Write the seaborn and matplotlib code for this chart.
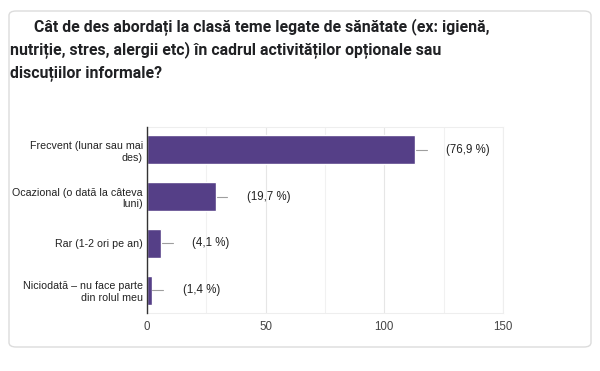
import matplotlib.pyplot as plt
import seaborn as sns
import pandas as pd
from matplotlib.patches import FancyBboxPatch

# data
categories = [
    "Frecvent (lunar sau mai\ndes)",
    "Ocazional (o dată la câteva\nluni)",
    "Rar (1-2 ori pe an)",
    "Niciodată – nu face parte\ndin rolul meu",
]
counts = [113, 29, 6, 2]
percent_labels = ["(76,9 %)", "(19,7 %)", "(4,1 %)", "(1,4 %)"]
x_ticks = [0, 50, 100, 150]

title = ("      Cât de des abordați la clasă teme legate de sănătate (ex: igienă,\n"
         "nutriție, stres, alergii etc) în cadrul activităților opționale sau\n"
         "discuțiilor informale?")

sns.set_style("white")
plt.rcParams['font.family'] = ['Liberation Sans', 'DejaVu Sans']

df = pd.DataFrame({"categorie": categories, "numar": counts})

W, H = 600, 371
fig = plt.figure(figsize=(W / 100, H / 100), dpi=100)
fig.patch.set_facecolor("white")

# card background
card = FancyBboxPatch((9 / W, 1 - 347 / H), 582 / W, 336 / H,
                      boxstyle="round,pad=0,rounding_size=0.012",
                      transform=fig.transFigure, facecolor="white",
                      edgecolor="#dcdcdc", linewidth=1.0, zorder=-5)
fig.patches.append(card)

fig.text(10 / W, 1 - 19 / H, title, ha="left", va="top", fontsize=11.4,
         fontweight="bold", color="#202124", linespacing=1.45,
         family=['Roboto', 'DejaVu Sans'])

ax = fig.add_axes([147 / W, 1 - 313 / H, 356 / W, 186 / H])
ax.set_facecolor("none")

sns.barplot(data=df, y="categorie", x="numar", color="#553f87",
            width=0.62, ax=ax, zorder=3, saturation=1)

ax.set_xlim(0, 150)
ax.set_xticks(x_ticks)
ax.set_xticks([25, 75, 125], minor=True)
ax.grid(axis="x", which="major", color="#e6e6e6", linewidth=0.8, zorder=0)
ax.grid(axis="x", which="minor", color="#f1f1f1", linewidth=0.8, zorder=0)
ax.tick_params(axis="x", which="both", length=0, labelsize=8.3, colors="#444444", pad=6)
ax.tick_params(axis="y", length=0, labelsize=7.7, colors="#222222", pad=3)
ax.set_xlabel("")
ax.set_ylabel("")

for s in ["top", "right", "bottom"]:
    ax.spines[s].set_color("#eeeeee")
    ax.spines[s].set_linewidth(0.8)
ax.spines["left"].set_color("#333333")
ax.spines["left"].set_linewidth(1.0)
ax.spines["left"].set_zorder(5)

for i, (v, lab) in enumerate(zip(counts, percent_labels)):
    ax.plot([v + 0.3, v + 4.8], [i, i], color="#9e9e9e", linewidth=0.8, zorder=4)
    ax.text(v + 13, i, lab, va="center", ha="left", fontsize=8.3, color="#222222")

for lab in ax.get_yticklabels():
    lab.set_horizontalalignment("right")
    lab.set_multialignment("right")

fig.savefig("out.png", dpi=100, facecolor="white")
